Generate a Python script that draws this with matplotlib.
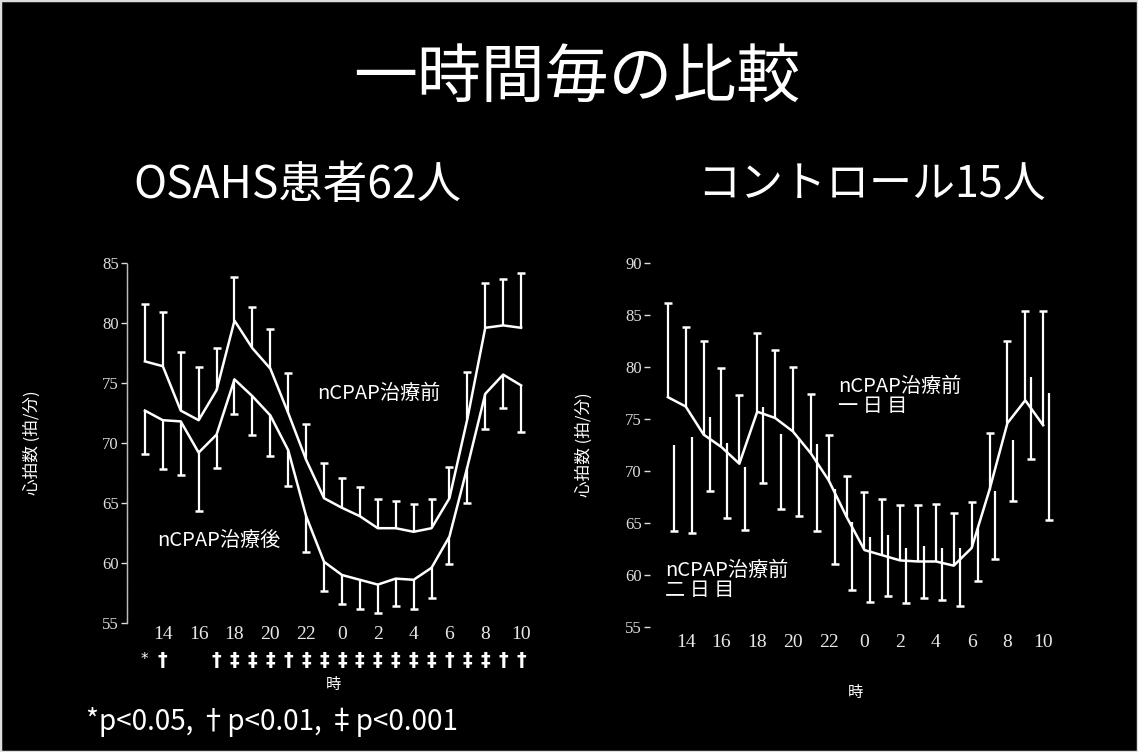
import matplotlib
matplotlib.use("Agg")
import matplotlib.pyplot as plt
from matplotlib.patches import Rectangle
import matplotlib.transforms as mtransforms
import numpy as np

plt.rcParams['font.family'] = ['Noto Sans CJK JP', 'DejaVu Sans']

# ---- data ----
hours = list(range(13, 35))                      # 13:00 .. 10:00 next day
tick_pos = list(range(14, 35, 2))
tick_labels = ['14', '16', '18', '20', '22', '0', '2', '4', '6', '8', '10']

# OSAHS patients (n=62)
before_mean = [76.8, 76.4, 72.7, 71.9, 74.4, 80.2, 77.9, 76.2, 72.5, 68.6, 65.4,
               64.6, 63.9, 62.9, 62.9, 62.6, 62.9, 65.4, 72.0, 79.6, 79.8, 79.6]
before_sd = [4.8, 4.5, 4.9, 4.4, 3.5, 3.6, 3.4, 3.3, 3.3, 3.0, 2.9,
             2.5, 2.4, 2.4, 2.3, 2.3, 2.4, 2.6, 3.9, 3.7, 3.9, 4.6]
after_mean = [72.7, 71.9, 71.8, 69.2, 70.7, 75.3, 73.9, 72.3, 69.4, 63.9, 60.1,
              59.0, 58.6, 58.2, 58.7, 58.6, 59.6, 62.2, 68.0, 74.1, 75.7, 74.8]
after_sd = [3.6, 4.1, 4.5, 4.9, 2.8, 2.9, 3.2, 3.4, 3.0, 3.0, 2.4,
            2.4, 2.4, 2.4, 2.3, 2.4, 2.5, 2.3, 3.0, 2.9, 2.8, 3.9]
significance = ['*', '†', '', '', '†', '‡', '‡', '‡', '†', '‡', '‡',
                '‡', '‡', '‡', '‡', '‡', '‡', '†', '‡', '‡', '†', '†']

# Controls (n=15)
day1_mean = [77.1, 76.2, 73.5, 72.3, 70.7, 75.7, 75.1, 73.8, 71.7, 69.1, 65.6,
             62.4, 61.9, 61.4, 61.3, 61.3, 60.9, 62.6, 68.2, 74.6, 76.8, 74.4]
day1_sd = [9.1, 7.6, 9.0, 7.6, 6.6, 7.6, 6.5, 6.2, 5.7, 4.4, 3.9,
           5.6, 5.4, 5.3, 5.4, 5.5, 5.1, 4.4, 5.5, 7.9, 8.6, 11.0]
day2_mean = [72.5, 73.3, 75.2, 72.7, 70.4, 76.2, 73.6, 73.2, 72.6, 68.3, 65.1,
             63.7, 63.8, 62.6, 62.8, 62.6, 62.6, 64.5, 68.1, 73.0, 79.0, 77.5]
day2_sd = [8.3, 9.3, 7.1, 7.2, 6.1, 7.4, 7.3, 7.5, 8.4, 7.2, 6.5,
           6.3, 5.8, 5.3, 5.0, 5.0, 5.6, 5.1, 6.6, 5.9, 7.8, 12.2]

FG = 'white'
TICK_FONT = 'Liberation Serif'


def bars(ax, x, base, sd, direction):
    """One-sided SD bars with a cap at the far end."""
    x = np.asarray(x, float)
    base = np.asarray(base, float)
    tip = base + direction * np.asarray(sd, float)
    ax.vlines(x, base, tip, colors=FG, lw=1.6, zorder=3)
    ax.plot(x, tip, ls='none', marker='_', ms=6, mew=1.8, color=FG, zorder=3)


def style_axes(ax, ylo, yhi, yticks, show_spine, label_x, xpad):
    ax.set_facecolor('black')
    ax.set_xlim(12, 35)
    ax.set_ylim(ylo, yhi)
    for s in ['top', 'right', 'bottom']:
        ax.spines[s].set_visible(False)
    ax.spines['left'].set_visible(show_spine)
    ax.spines['left'].set_color('#bbbbbb')
    ax.spines['left'].set_linestyle((0, (1, 0.6)))
    ax.spines['left'].set_linewidth(1.0)
    ax.set_yticks(yticks)
    ax.set_yticklabels([str(v) for v in yticks], fontfamily=TICK_FONT,
                       fontsize=12, color='#e8e8e8')
    ax.tick_params(axis='y', colors='#dddddd', length=4, width=1, pad=2)
    ax.set_xticks(tick_pos)
    ax.set_xticklabels(tick_labels, fontfamily=TICK_FONT, fontsize=14,
                       color='#e8e8e8')
    ax.tick_params(axis='x', length=0, pad=xpad)
    ax.set_ylabel('心拍数 (拍/分)', color=FG, fontsize=12)
    ax.yaxis.set_label_coords(label_x, 0.5)


fig = plt.figure(figsize=(11.38, 7.52), dpi=100, facecolor='black')

# ---- left panel: OSAHS patients ----
axL = fig.add_axes([127 / 1138, 1 - 623 / 752, 412 / 1138, 360 / 752])
style_axes(axL, 55, 85, [55, 60, 65, 70, 75, 80, 85], True, -0.21, 2)
axL.plot(hours, before_mean, color=FG, lw=1.8, zorder=4)
axL.plot(hours, after_mean, color=FG, lw=1.8, zorder=4)
bars(axL, hours, before_mean, before_sd, +1)
bars(axL, hours, after_mean, after_sd, -1)
axL.text(22.6, 74.1, 'nCPAP治療前', color=FG, fontsize=14.5, va='center')
axL.text(13.7, 61.9, 'nCPAP治療後', color=FG, fontsize=14.5, va='center')

# significance row under the hour labels
blend = mtransforms.blended_transform_factory(axL.transData, axL.transAxes)
for h, mark in zip(hours, significance):
    if mark == '*':
        axL.text(h - 0.05, -0.102, mark, transform=blend, ha='center', va='center',
                 color=FG, fontsize=11, family='DejaVu Sans')
    elif mark:
        axL.text(h, -0.104, mark, transform=blend, ha='center', va='center',
                 color=FG, fontsize=14, family='DejaVu Sans', fontweight='bold')
axL.text(0.5, -0.17, '時', transform=axL.transAxes,
         ha='center', va='center', color=FG, fontsize=11)

# ---- right panel: controls ----
axR = fig.add_axes([650 / 1138, 1 - 627 / 752, 411 / 1138, 364 / 752])
style_axes(axR, 55, 90, [55, 60, 65, 70, 75, 80, 85, 90], False, -0.14, 5)
x_day2 = [h + 0.33 for h in hours]
axR.plot(hours, day1_mean, color=FG, lw=1.8, zorder=4)
bars(axR, hours, day1_mean, day1_sd, +1)
bars(axR, x_day2, day2_mean, day2_sd, -1)
axR.text(22.5, 77.2, 'nCPAP治療前\n一 日 目', color=FG, fontsize=14.5,
         va='center', linespacing=0.95)
axR.text(12.85, 59.5, 'nCPAP治療前\n二 日 目', color=FG, fontsize=14.5,
         va='center', linespacing=0.95)
axR.text(0.5, -0.18, '時', transform=axR.transAxes, ha='center', va='center',
         color=FG, fontsize=11)

# ---- headings ----
fig.text(0.507, 0.896, '一時間毎の比較', color=FG, fontsize=46, ha='center', va='center')
fig.text(0.261, 0.754, 'OSAHS患者62人', color=FG, fontsize=32, ha='center', va='center')
fig.text(0.766, 0.754, 'コントロール15人', color=FG, fontsize=31, ha='center', va='center')
fig.text(0.239, 0.040, '*p<0.05, †p<0.01, ‡p<0.001', color=FG, fontsize=20,
         ha='center', va='center')

fig.patches.append(Rectangle((0, 0), 1, 1, transform=fig.transFigure, fill=False,
                             edgecolor='#dddddd', lw=2.5))

fig.savefig('out.png', dpi=100, facecolor='black')
